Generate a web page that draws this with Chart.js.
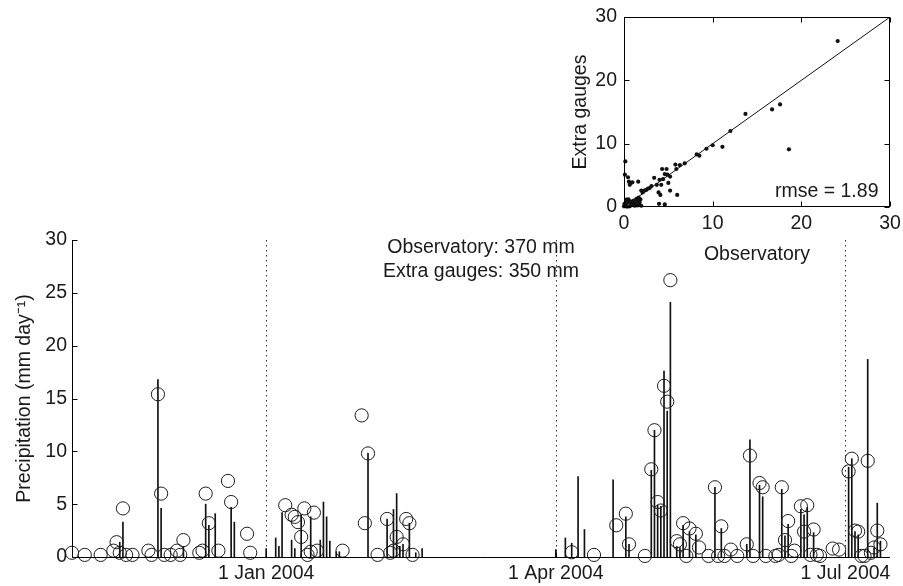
<!DOCTYPE html>
<html>
<head>
<meta charset="utf-8">
<title>Daily precipitation: observatory and extra gauges</title>
<script src="https://cdn.jsdelivr.net/npm/chart.js@4/dist/chart.umd.min.js"></script>
<style>
  html, body { margin: 0; padding: 0; background: #fff; }
  #wrap { position: relative; width: 903px; height: 586px; overflow: hidden; }
  #main { position: absolute; left: 0; top: 0; }
  #inset { position: absolute; left: 560px; top: 0; }
</style>
</head>
<body>
<div id="wrap">
  <canvas id="main" width="903" height="586"></canvas>
  <canvas id="inset" width="343" height="270"></canvas>
</div>
<script>
// Day numbers are counted from 1 Nov 2003 (day 0).

// Extra gauges, daily mean (mm/day) – drawn as open circles
const gaugeDays = [
  0, 4, 9, 13, 14, 15, 16, 17, 19, 24, 25, 27, 28, 29, 31, 33, 34, 35, 40, 41, 42, 43, 46, 49, 50, 55, 56,
  67, 69, 70, 71, 72, 73, 74, 75, 76, 77, 85, 91, 92, 93, 96, 99, 100, 101, 102, 104, 105, 106, 107,
  157, 164, 171, 174, 175, 180, 182, 183, 184, 185, 186, 187, 188, 190, 191, 192, 193, 194, 196, 197,
  200, 202, 203, 204, 205, 207, 209, 212, 213, 214, 216, 217, 218, 221, 222, 223, 224, 225, 226, 227,
  229, 230, 231, 232, 233, 234, 235, 239, 241, 244, 245, 246, 247, 248, 249, 250, 251, 252, 253, 254
];
const gaugeValues = [
  0.4, 0.2, 0.2, 0.6, 1.4, 0.4, 4.6, 0.2, 0.2, 0.6, 0.2, 15.4, 6.0, 0.2, 0.2, 0.6, 0.2, 1.6, 0.4, 0.6, 6.0, 3.2, 0.6, 7.2, 5.2, 2.2, 0.4,
  4.9, 4.0, 3.8, 3.3, 1.9, 4.6, 0.2, 0.5, 4.2, 0.6, 0.6, 13.4, 3.2, 9.8, 0.2, 3.6, 0.4, 0.6, 1.9, 1.2, 3.6, 3.2, 0.2,
  0.45, 0.2, 3.0, 4.1, 1.2, 0.1, 8.3, 12.0, 5.2, 4.4, 16.2, 14.7, 26.2, 1.5, 1.2, 3.2, 0.1, 2.7, 2.2, 0.9,
  0.1, 6.6, 0.1, 2.9, 0.1, 0.7, 0.1, 1.2, 9.6, 0.1, 7.0, 6.6, 0.1, 0.1, 0.2, 6.6, 1.6, 3.4, 0.1, 0.6,
  4.8, 2.4, 4.9, 0.2, 2.6, 0.2, 0.1, 0.8, 0.7, 8.1, 9.3, 2.5, 2.4, 0.1, 0.1, 9.1, 0.4, 0.9, 2.5, 1.2
];

// Observatory gauge (mm/day) – drawn as stems
const observatoryDays = [
  15, 16, 27, 28, 35, 42, 43, 45, 50, 51,
  61, 64, 65, 66, 69, 70, 72, 75, 78, 79, 80, 81, 83, 84, 93, 99, 101, 102, 103, 104, 106, 108, 110,
  152, 155, 157, 159, 161, 170, 174, 175, 182, 183, 184, 185, 186, 187, 188, 190, 191, 192, 194, 196,
  202, 204, 212, 213, 216, 217, 223, 224, 225, 229, 230, 231, 233, 244, 245, 246, 247, 250, 252, 253, 254
];
const observatoryValues = [
  1.4, 3.3, 16.8, 4.6, 1.0, 5.0, 3.0, 4.1, 4.7, 3.3,
  0.8, 1.8, 1.0, 4.2, 1.6, 0.8, 4.0, 3.8, 1.6, 5.2, 3.8, 1.5, 0.5, 0.5, 9.8, 3.6, 4.5, 6.0, 1.0, 1.2, 3.2, 0.4, 0.8,
  0.7, 1.8, 1.3, 7.6, 2.6, 7.3, 3.8, 1.2, 8.2, 12.0, 4.9, 4.8, 17.6, 13.8, 24.1, 1.0, 0.9, 3.0, 2.4, 2.1,
  6.6, 2.7, 1.2, 11.1, 6.8, 5.7, 6.4, 2.0, 3.1, 4.5, 4.0, 4.7, 2.3, 8.5, 9.3, 2.4, 2.1, 18.7, 0.9, 5.1, 1.5
];

const dateTickDays = [61, 152, 243];
const dateTickLabels = ['1 Jan 2004', '1 Apr 2004', '1 Jul 2004'];
const precipTicks = [0, 5, 10, 15, 20, 25, 30];
const totalsText = ['Observatory: 370 mm', 'Extra gauges: 350 mm'];

// Paired days: observatory (x) against extra gauges (y)
const scatterObservatory = [
  24.1, 13.7, 16.7, 17.6, 18.6, 12.0, 11.1, 10.0, 9.3, 8.2, 8.5, 6.85, 6.3, 5.9, 5.8, 6.0, 4.8, 4.3, 4.6, 4.9,
  5.2, 5.0, 5.2, 4.0, 4.2, 3.7, 3.4, 3.9, 4.1, 3.95, 4.6, 2.9, 2.5, 2.3, 1.95, 2.1, 1.6, 1.65, 1.4, 0.15,
  0.1, 0.45, 0.55, 0.75, 0.65, 0.95, 0.25, 0.45, 0.75, 1.0, 1.3, 1.75, 1.5, 1.95, 0.0, 0.1, 0.25, 0.65, 0.8, 1.2,
  1.7, 0.2, 0.05, 0.35, 0.9, 1.1, 0.5, 1.85, 0.3, 1.5, 4.4, 3.1, 2.7
];
const scatterGauges = [
  26.2, 14.7, 15.4, 16.2, 9.1, 12.0, 9.5, 9.75, 9.2, 8.3, 8.1, 6.9, 6.6, 6.0, 6.7, 1.9, 6.0, 6.0, 5.2, 5.1,
  4.8, 3.8, 2.6, 4.3, 3.5, 3.5, 4.6, 2.3, 1.9, 0.5, 0.4, 3.0, 2.7, 2.6, 2.6, 2.3, 4.0, 1.5, 1.3, 7.2,
  5.1, 4.7, 4.0, 3.8, 3.5, 3.9, 1.15, 0.8, 0.9, 0.75, 0.6, 0.75, 0.25, 0.2, 0.1, 0.35, 0.25, 0.1, 0.5, 0.2,
  0.5, 0.6, 0.5, 0.05, 0.3, 1.0, 1.2, 1.2, 0.9, 1.1, 4.4, 3.3, 2.9
];
const scatterTicks = [0, 10, 20, 30];
const oneToOne = [0, 30];
const rmseText = 'rmse = 1.89';

const FONT = { family: '"Liberation Sans", Arial, Helvetica, sans-serif', size: 19.5 };
const INK = '#1a1a1a';
const fontStr = `${FONT.size}px ${FONT.family}`;

function zeroPadding(scale) {
  scale.paddingLeft = 0; scale.paddingRight = 0;
  scale.paddingTop = 0; scale.paddingBottom = 0;
}

// Axes, inward tick marks, dotted date markers and the totals note
const mainDecor = {
  id: 'mainDecor',
  beforeDatasetsDraw(chart) {
    const { ctx, chartArea: a, scales: { x } } = chart;
    ctx.save();
    ctx.strokeStyle = '#333';
    ctx.lineWidth = 1;
    ctx.setLineDash([1.5, 3.5]);
    dateTickDays.forEach(d => {
      const px = Math.round(x.getPixelForValue(d)) + 0.5;
      ctx.beginPath();
      ctx.moveTo(px, a.top);
      ctx.lineTo(px, a.bottom);
      ctx.stroke();
    });
    ctx.restore();
  },
  afterDraw(chart) {
    const { ctx, chartArea: a, scales: { x, y } } = chart;
    ctx.save();
    ctx.strokeStyle = '#000';
    ctx.lineWidth = 1;
    const left = Math.round(a.left) + 0.5;
    const base = Math.round(y.getPixelForValue(0)) + 0.5;
    ctx.beginPath();
    ctx.moveTo(left, Math.round(a.top));
    ctx.lineTo(left, base);
    ctx.lineTo(Math.round(a.right), base);
    ctx.stroke();
    ctx.beginPath();
    precipTicks.forEach(v => {
      const py = Math.round(y.getPixelForValue(v)) + 0.5;
      ctx.moveTo(left, py);
      ctx.lineTo(left + 5, py);
    });
    dateTickDays.forEach(d => {
      const px = Math.round(x.getPixelForValue(d)) + 0.5;
      ctx.moveTo(px, base);
      ctx.lineTo(px, base - 5);
    });
    ctx.stroke();

    ctx.fillStyle = INK;
    ctx.font = fontStr;
    ctx.textAlign = 'center';
    ctx.textBaseline = 'middle';
    const cx = x.getPixelForValue(128.5);
    ctx.fillText(totalsText[0], cx, y.getPixelForValue(29.25));
    ctx.fillText(totalsText[1], cx, y.getPixelForValue(27.05));
    ctx.restore();
  }
};

new Chart(document.getElementById('main'), {
  type: 'bar',
  data: {
    datasets: [
      {
        type: 'bar',
        label: 'Observatory',
        data: observatoryDays.map((d, i) => ({ x: d, y: observatoryValues[i] })),
        backgroundColor: '#111',
        borderWidth: 0,
        barThickness: 1,
        grouped: false,
        order: 2
      },
      {
        type: 'scatter',
        label: 'Extra gauges',
        data: gaugeDays.map((d, i) => ({ x: d, y: gaugeValues[i] })),
        pointStyle: 'circle',
        pointRadius: 6.6,
        pointBorderWidth: 1,
        pointBorderColor: '#1c1c1c',
        pointBackgroundColor: 'rgba(0,0,0,0)',
        clip: false,
        order: 1
      }
    ]
  },
  options: {
    responsive: false,
    animation: false,
    devicePixelRatio: 1,
    layout: { padding: { top: 240, right: 13, bottom: 0, left: 0 } },
    plugins: { legend: { display: false }, tooltip: { enabled: false } },
    scales: {
      x: {
        type: 'linear',
        min: 0,
        max: 257,
        offset: false,
        grid: { display: false, drawTicks: false, offset: false },
        border: { display: false },
        afterBuildTicks: s => { s.ticks = dateTickDays.map(v => ({ value: v })); },
        afterFit: s => { s.height = 29; zeroPadding(s); },
        ticks: {
          autoSkip: false, maxRotation: 0, minRotation: 0, padding: 5,
          font: FONT, color: INK,
          callback: v => dateTickLabels[dateTickDays.indexOf(v)]
        }
      },
      y: {
        type: 'linear',
        min: 0,
        max: 30,
        grid: { display: false, drawTicks: false },
        border: { display: false },
        afterBuildTicks: s => { s.ticks = precipTicks.map(v => ({ value: v })); },
        afterFit: s => { s.width = 72; zeroPadding(s); },
        ticks: { padding: 5, font: FONT, color: INK },
        title: {
          display: true,
          text: 'Precipitation (mm day\u207B\u00B9)',
          font: FONT, color: INK,
          padding: { top: 13, bottom: 0 }
        }
      }
    }
  },
  plugins: [mainDecor]
});

// Box, inward ticks on all four sides and the error note
const insetDecor = {
  id: 'insetDecor',
  afterDraw(chart) {
    const { ctx, chartArea: a, scales: { x, y } } = chart;
    ctx.save();
    ctx.strokeStyle = '#000';
    ctx.lineWidth = 1;
    const L = Math.round(a.left) + 0.5, R = Math.round(a.right) - 0.5;
    const T = Math.round(a.top) + 0.5, B = Math.round(a.bottom) - 0.5;
    ctx.strokeRect(L, T, R - L, B - T);
    ctx.beginPath();
    scatterTicks.forEach(v => {
      const px = Math.round(x.getPixelForValue(v)) + 0.5;
      ctx.moveTo(px, B); ctx.lineTo(px, B - 5);
      ctx.moveTo(px, T); ctx.lineTo(px, T + 5);
      const py = Math.round(y.getPixelForValue(v)) + 0.5;
      ctx.moveTo(L, py); ctx.lineTo(L + 5, py);
      ctx.moveTo(R, py); ctx.lineTo(R - 5, py);
    });
    ctx.stroke();
    ctx.fillStyle = INK;
    ctx.font = fontStr;
    ctx.textAlign = 'right';
    ctx.textBaseline = 'middle';
    ctx.fillText(rmseText, x.getPixelForValue(28.7), y.getPixelForValue(2.45));
    ctx.restore();
  }
};

new Chart(document.getElementById('inset'), {
  type: 'scatter',
  data: {
    datasets: [
      {
        label: 'Days',
        data: scatterObservatory.map((v, i) => ({ x: v, y: scatterGauges[i] })),
        pointRadius: 2.1,
        pointBorderWidth: 0,
        pointBackgroundColor: '#111',
        clip: false
      },
      {
        type: 'line',
        label: '1:1',
        data: oneToOne.map(v => ({ x: v, y: v })),
        borderColor: '#111',
        borderWidth: 1,
        pointRadius: 0,
        showLine: true,
        fill: false
      }
    ]
  },
  options: {
    responsive: false,
    animation: false,
    devicePixelRatio: 1,
    layout: { padding: { top: 17, right: 13, bottom: 0, left: 0 } },
    plugins: { legend: { display: false }, tooltip: { enabled: false } },
    scales: {
      x: {
        type: 'linear', min: 0, max: 30,
        grid: { display: false, drawTicks: false },
        border: { display: false },
        afterBuildTicks: s => { s.ticks = scatterTicks.map(v => ({ value: v })); },
        afterFit: s => { s.height = 63; zeroPadding(s); },
        ticks: { autoSkip: false, maxRotation: 0, padding: 5, font: FONT, color: INK },
        title: { display: true, text: 'Observatory', font: FONT, color: INK, padding: { top: 0, bottom: 4 } }
      },
      y: {
        type: 'linear', min: 0, max: 30,
        grid: { display: false, drawTicks: false },
        border: { display: false },
        afterBuildTicks: s => { s.ticks = scatterTicks.map(v => ({ value: v })); },
        afterFit: s => { s.width = 64; zeroPadding(s); },
        ticks: { padding: 7, font: FONT, color: INK },
        title: { display: true, text: 'Extra gauges', font: FONT, color: INK, padding: { top: 9, bottom: 0 } }
      }
    }
  },
  plugins: [insetDecor]
});
</script>
</body>
</html>
